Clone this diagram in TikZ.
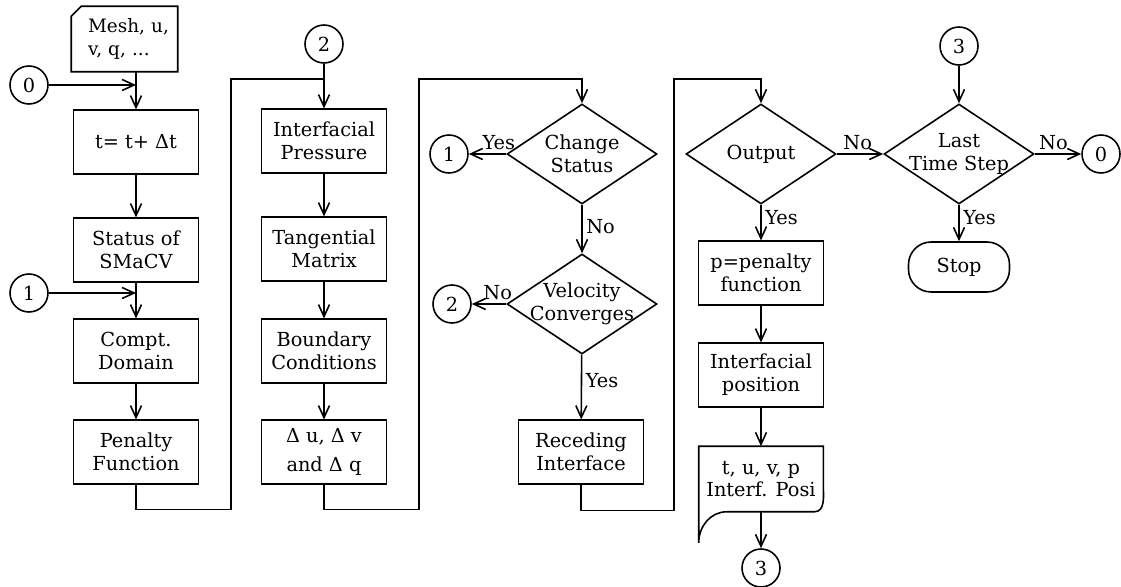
\documentclass[tikz,border=0pt]{standalone}
\usepackage{fontspec}
\setmainfont{DejaVu Serif}
\usetikzlibrary{arrows.meta,shapes.geometric}
\tikzset{bx/.append style={draw, rectangle, minimum width=2.5cm, minimum height=1.27cm, align=center, inner sep=1pt}}
\tikzset{dm/.append style={draw, diamond, aspect=1.5, minimum width=3cm, minimum height=2cm, inner sep=-3pt, align=center}}
\tikzset{cn/.append style={draw, circle, minimum size=0.76cm, inner sep=0pt}}
\tikzset{lb/.append style={inner sep=2pt}}

\begin{document}
\begin{tikzpicture}[x=0.02cm, y=-0.02cm, line width=0.9pt, >={Straight Barb[length=2.4mm,width=2.2mm]}, font=\fontsize{11}{13}\selectfont]
                \useasboundingbox (0,0) rectangle (1121,587);
                % first column
                \node[minimum width=2.1cm, minimum height=1.28cm, inner sep=0pt, align=left, text width=2.1cm, font=\fontsize{10.5}{13}\selectfont] (mesh) at (124.5,39) {\hspace*{0.32cm}Mesh, u,\\\hspace*{0.32cm}v, q, ...};
                \draw ([yshift=-0.2cm]mesh.north west) -- ([xshift=0.2cm]mesh.north west) -- (mesh.north east) -- (mesh.south east) -- (mesh.south west) -- cycle;
                \node[bx] (tstep) at (136,142) {t= t+ Δt};
                \node[bx] (stat) at (136,250) {Status of\\SMaCV};
                \node[bx] (compt) at (136,351) {Compt.\\Domain};
                \node[bx] (pen) at (136,452) {Penalty\\Function};
                \node[cn] (cz) at (29,85) {0};
                \node[cn] (co) at (29,293) {1};
                % second column
                \node[cn] (ctw) at (324,44) {2};
                \node[bx] (ipr) at (324,141) {Interfacial\\Pressure};
                \node[bx] (tan) at (324,249) {Tangential\\Matrix};
                \node[bx] (bnd) at (324,351) {Boundary\\Conditions};
                \node[bx] (del) at (324,452) {Δ u, Δ v\\[4pt]and Δ q};
                % third column
                \node[dm] (chg) at (582,154) {Change\\Status};
                \node[cn] (cob) at (449,154) {1};
                \node[dm] (vel) at (582,304) {Velocity\\Converges};
                \node[cn] (ctb) at (452,304) {2};
                \node[bx] (rec) at (581,452) {Receding\\Interface};
                % fourth column
                \node[dm] (outp) at (761,154) {Output};
                \node[bx] (pfn) at (761,273) {p=penalty\\function};
                \node[bx] (ipos) at (761,375) {Interfacial\\position};
                \node[minimum width=2.46cm, minimum height=1.28cm, align=center, inner sep=1pt] (outd) at (761,479) {t, u, v, p\\Interf. Posi};
                \node[cn] (cth) at (761,568) {3};
                % fifth column
                \node[cn] (ctc) at (959,46) {3};
                \node[dm] (last) at (959,154) {Last\\Time Step};
                \node[draw, rectangle, rounded corners=0.45cm, minimum width=2.02cm, minimum height=1cm] (stop) at (959,267) {Stop};
                \node[cn] (czb) at (1101,154) {0};
                \coordinate (ta) at (231,79);
                \coordinate (tb) at (419,79);
                \coordinate (tc) at (674,79);
                % output sheet
                \draw ([yshift=-0.62cm]outd.south west) -- (outd.north west) -- (outd.north east) -- ([yshift=0.56cm]outd.south east) to[out=-90,in=0] ([xshift=-0.18cm]outd.south east) -- ([xshift=0.56cm]outd.south west) to[out=180,in=90] ([yshift=-0.62cm]outd.south west);
                % connections
                \draw[->] (tstep.north |- mesh.south) -- (tstep.north);
                \draw[->] (cz) -- (cz -| tstep.north);
                \draw[->] (tstep) -- (stat);
                \draw[->] (stat) -- (compt);
                \draw[->] (co) -- (co -| stat.south);
                \draw[->] (compt) -- (pen);
                \draw[->] (pen.south) -- ++(0,25) -| (ta) -| (ipr.north);
                \draw (ctw) -- (ctw |- ta);
                \draw[->] (ipr) -- (tan);
                \draw[->] (tan) -- (bnd);
                \draw[->] (bnd) -- (del);
                \draw[->] (del.south) -- ++(0,25) -| (tb) -| (chg.north);
                \draw[->] (chg) -- node[lb,above,pos=0.2]{Yes} (cob);
                \draw[->] (chg) -- node[lb,right,pos=0.45]{No} (vel);
                \draw[->] (vel) -- node[lb,above,pos=0.25]{No} (ctb);
                \draw[->] (vel) -- node[lb,right,pos=0.4]{Yes} (rec);
                \draw[->] (rec.south) -- ++(0,26) -| (tc) -| (outp.north);
                \draw[->] (outp) -- node[lb,right,pos=0.35]{Yes} (pfn);
                \draw[->] (pfn) -- (ipos);
                \draw[->] (ipos) -- (outd);
                \draw[->] (outd.south) -- (cth);
                \draw[->] (outp) -- node[lb,above,pos=0.45]{No} (last);
                \draw[->] (ctc) -- (last);
                \draw[->] (last) -- node[lb,above,pos=0.4]{No} (czb);
                \draw[->] (last) -- node[lb,right,pos=0.35]{Yes} (stop);
\end{tikzpicture}
\end{document}
